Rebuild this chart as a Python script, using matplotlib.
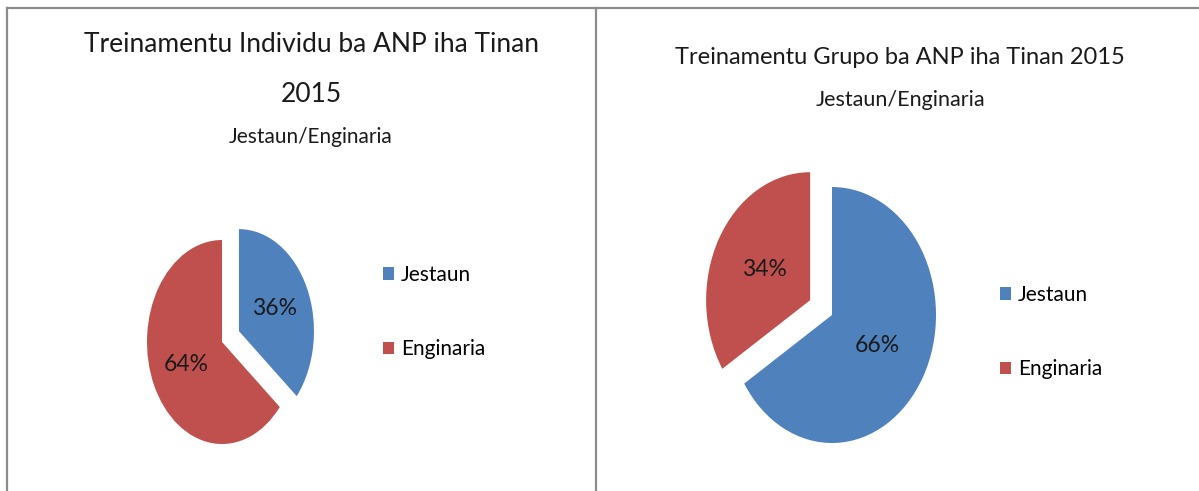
import matplotlib
matplotlib.use("Agg")
import matplotlib.pyplot as plt
from matplotlib.lines import Line2D
from matplotlib.patches import Patch

plt.rcParams["font.family"] = ["Lato", "DejaVu Sans"]

BLUE = "#4F81BD"
RED = "#C0504D"
INK = "#1a1a1a"
FRAME = "#8c8c8c"

categories = ["Jestaun", "Enginaria"]
individu_pct = [36, 64]
grupo_pct = [66, 34]

W, H = 1199, 491
fig = plt.figure(figsize=(W / 100, H / 100), dpi=100)
fig.patch.set_facecolor("white")


def fx(x):
    return x / W


def fy(y):
    return 1 - y / H


def pie_axes(cx, cy, rx, ry, lim=1.5):
    # axes centred on the pie centre (pixels), stretched so the pie is an ellipse
    ax = fig.add_axes([fx(cx - lim * rx), fy(cy + lim * ry),
                       2 * lim * rx / W, 2 * lim * ry / H])
    return ax


def draw_pie(ax, values, explode, pctdist, lim=1.5):
    ax.pie(values, colors=[BLUE, RED], startangle=90, counterclock=False,
           explode=explode, autopct="%d%%", pctdistance=pctdist,
           wedgeprops=dict(linewidth=0),
           textprops=dict(fontsize=16.5, color=INK))
    ax.set_aspect("auto")
    ax.set_xlim(-lim, lim)
    ax.set_ylim(-lim, lim)
    ax.axis("off")


def legend_at(x, y):
    handles = [Patch(facecolor=BLUE, label=categories[0]),
               Patch(facecolor=RED, label=categories[1])]
    fig.legend(handles=handles, loc="upper left",
               bbox_to_anchor=(fx(x), fy(y)), frameon=False, fontsize=15,
               handlelength=0.55, handleheight=0.55, handletextpad=0.3,
               labelspacing=2.6, borderpad=0, borderaxespad=0)


# --- left: Individu ---
ax1 = pie_axes(222, 342, 75, 102)
draw_pie(ax1, individu_pct, [0.25, 0], 0.52)
fig.text(fx(311), fy(45), "Treinamentu Individu ba ANP iha Tinan",
         ha="center", va="center", fontsize=19, color=INK)
fig.text(fx(311), fy(95), "2015", ha="center", va="center", fontsize=19, color=INK)
fig.text(fx(311), fy(137), "Jestaun/Enginaria", ha="center", va="center",
         fontsize=15, color=INK)
legend_at(383, 265)

# --- right: Grupo ---
ax2 = pie_axes(832, 315, 104, 128)
draw_pie(ax2, grupo_pct, [0, 0.24], 0.5)
fig.text(fx(900), fy(57), "Treinamentu Grupo ba ANP iha Tinan 2015",
         ha="center", va="center", fontsize=17, color=INK)
fig.text(fx(900), fy(100), "Jestaun/Enginaria", ha="center", va="center",
         fontsize=15.5, color=INK)
legend_at(1000, 285)

# frame lines
for xs, ys in [([7, 7], [8, H]), ([596, 596], [8, H]), ([7, W], [8, 8])]:
    fig.add_artist(Line2D([fx(v) for v in xs], [fy(v) for v in ys],
                          transform=fig.transFigure, color=FRAME, linewidth=1.6))

fig.savefig("out.png", dpi=100, facecolor="white")
